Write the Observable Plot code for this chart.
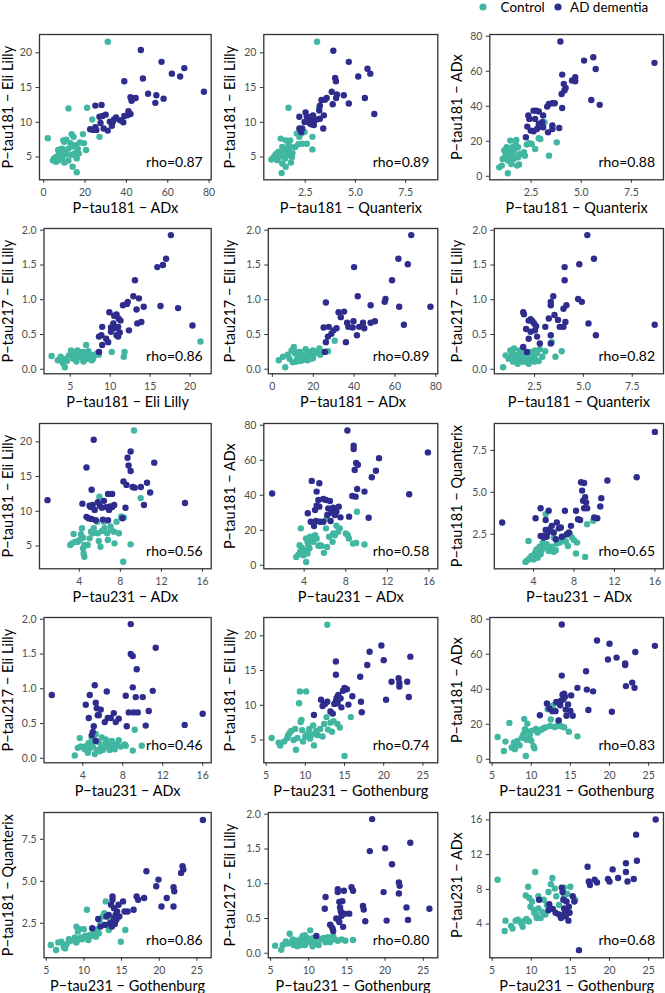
<!DOCTYPE html>
<html><head><meta charset="utf-8">
<script src="https://cdn.jsdelivr.net/npm/d3@7"></script>
<script src="https://cdn.jsdelivr.net/npm/@observablehq/plot@0.6"></script>
<style>
body{margin:0;background:#fff;font-family:Lato,sans-serif;}
#chart{position:relative;width:665px;height:993px;overflow:hidden;background:#fff;}
.panel{position:absolute;}
</style></head><body><div id="chart"></div>
<script>
// ---- variables (axes) ----
const varLabels = {E181:"P\u2212tau181 \u2212 Eli Lilly", A181:"P\u2212tau181 \u2212 ADx", Q181:"P\u2212tau181 \u2212 Quanterix", T217:"P\u2212tau217 \u2212 Eli Lilly", A231:"P\u2212tau231 \u2212 ADx", G231:"P\u2212tau231 \u2212 Gothenburg"};
const varDomains = {E181:[1.72,22.64], A181:[-2.0,81.0], Q181:[0.44,9.1], T217:[-0.065,2.025], A231:[0.12,16.85], G231:[4.7,26.9]};
const ticksE181 = [5,10,15,20];
const ticksA181 = [0,20,40,60,80];
const ticksQ181 = [2.5,5.0,7.5];
const ticksT217 = [0,0.5,1,1.5,2];
const ticksA231 = [4,8,12,16];
const ticksG231 = [5,10,15,20,25];
const varTicks = {E181:ticksE181, A181:ticksA181, Q181:ticksQ181, T217:ticksT217, A231:ticksA231, G231:ticksG231};
const oneDecimal = ["Q181","T217"];

const groups = ["Control","AD dementia"];
const groupColors = ["#41b6a1","#2e2c8c"];

// ---- panel data: [x, y] ----
const p01_control = [[31,21.6],[2,7.7],[12,12],[21,12.1],[23.5,10.4],[27,7.9],[16,2.8],[14,3.6],[4.5,4.5],[5,4.8],[6,4.3],[6,5],[7,4.5],[7.5,5.6],[8,5.3],[8,6.1],[9,4.9],[9,6.2],[10,5.7],[10,4.2],[11,7.5],[11,5.4],[12,4.5],[12,6.2],[13,7],[13.5,8.3],[13.5,5.3],[14.5,7.9],[14.5,6.5],[15,5.5],[15.5,6.7],[16,4.8],[16.5,6.2],[17,5.5],[17.5,7.1],[19,8.3],[19.5,7],[20.5,6],[10,7.2],[7,6],[9.5,7.4]];
const p01_ad = [[47,20.4],[57,18.7],[62,17],[68,17.8],[66,16.6],[77.5,14.4],[48,16.3],[39,15.9],[42,13.6],[43,13.4],[44.5,13.5],[42.5,13.1],[50.5,14.1],[54.5,13.9],[54,12.8],[58,13.4],[25,12.4],[28,12.5],[27,10.8],[28.5,10.9],[30,11.1],[27.5,9.9],[25.5,8.9],[25,9.3],[31,8.8],[33,9.5],[32,10.1],[34,10.4],[35,10.7],[37,10.3],[39,10.9],[41,11.6],[40.5,11],[42,11.2],[38.5,10],[22.5,9],[24,8.9],[29,9.1],[33.5,10.1]];

const p02_control = [[3.09,21.6],[1.67,12.1],[3.2,12.1],[0.82,4.64],[0.94,5.0],[1.03,5.4],[1.11,4.55],[1.2,5.0],[1.28,5.6],[1.28,7.65],[1.36,6.45],[1.36,4.07],[1.33,2.7],[1.45,5.74],[1.5,4.8],[1.53,3.6],[1.53,7.4],[1.62,6.2],[1.62,5.26],[1.67,6.9],[1.7,5.74],[1.75,7.4],[1.79,4.2],[1.84,5.0],[1.75,6.46],[1.87,5.6],[1.16,5.74],[2.08,8.37],[2.16,6.84],[2.3,8.37],[2.21,7.9],[2.35,6.9],[2.47,8.6],[2.58,6.9],[2.86,7.9],[2.86,6.1],[2.0,6.46],[1.45,5.26]];
const p02_ad = [[3.9,20.3],[4.67,18.7],[5.6,17.7],[5.74,17],[5.14,16.6],[3.99,16.4],[4.03,15.9],[3.82,14.4],[4.08,14.0],[4.04,13.5],[4.42,13.9],[3.57,13.5],[3.31,13.2],[3.48,13.25],[3.23,12.4],[3.87,12.6],[4.67,12.7],[5.47,13.5],[5.94,11.2],[3.2,11.7],[2.21,10.8],[2.52,11.4],[2.58,10.8],[2.68,10.5],[2.8,10.8],[2.89,11.0],[2.97,10.3],[3.23,10.5],[3.43,11.0],[3.4,9.1],[2.21,9.1],[2.35,9.1],[2.3,8.6],[2.72,9.9],[2.8,9.7],[2.47,10.05],[2.93,9.6],[3.06,10.4]];

const p03_control = [[0.91,5.1],[1.04,6.1],[1.34,1.7],[1.2,11.2],[1.25,13.1],[1.28,16.6],[1.39,14.7],[1.46,20.4],[1.51,7.0],[1.56,12.8],[1.63,9.9],[1.68,15.6],[1.73,18.5],[1.76,20.8],[1.8,6.1],[1.85,10.9],[1.34,9],[1.42,11.8],[1.56,16.6],[1.16,14.7],[1.9,6.7],[2.14,13.7],[2.19,11.8],[2.28,18.1],[2.41,18.9],[2.53,18.5],[2.7,15.6],[2.88,21.7],[2.96,21.3],[3.17,30.9],[3.39,11.8],[3.78,19.4],[1.85,16.6],[1.08,9.9],[1.94,12.8],[1.63,13.7]];
const p03_ad = [[3.96,77],[5.14,66.1],[5.6,68],[5.72,61.3],[8.65,64.8],[4.05,58.1],[4.13,52.8],[4.22,50.5],[4.16,49],[4.02,47],[4.54,54.7],[4.7,56.6],[4.7,54.3],[5.5,43.6],[5.92,40.8],[4.05,39],[3.3,39.8],[3.39,41.3],[3.56,41.7],[3.68,41.7],[2.62,37.5],[2.76,37.5],[2.88,37],[2.36,34.7],[2.41,32.8],[2.7,32.8],[3.1,34.7],[2.31,28.4],[2.48,26.1],[2.62,25.7],[2.79,27],[2.96,28.4],[3.1,28],[3.56,29],[3.56,27],[3.34,25.1],[3.9,27.6],[2.24,22.3],[2.88,29.9],[3.05,30.9]];

const p04_control = [[2.67,0.19],[3.45,0.13],[4.07,0.09],[4.33,0.03],[4.22,0.15],[4.59,0.12],[4.84,0.2],[5.1,0.27],[5.36,0.15],[5.62,0.21],[5.78,0.11],[6.03,0.18],[6.3,0.21],[6.55,0.15],[6.8,0.2],[7.0,0.35],[7.2,0.15],[7.4,0.18],[7.6,0.21],[7.85,0.15],[8.05,0.2],[8.36,0.23],[8.57,0.21],[10.2,0.25],[11.8,0.25],[11.7,0.18],[21.3,0.4],[6.14,0.25],[6.66,0.25],[7.7,0.13],[5.26,0.23],[3.8,0.18],[5.9,0.27],[7.28,0.26],[6.66,0.11],[7.2,0.23]];
const p04_ad = [[17.6,1.93],[17.0,1.59],[16.6,1.5],[15.9,1.47],[13.1,1.28],[12.9,1.05],[13.6,1.02],[13.3,0.86],[14.2,0.9],[13.4,0.66],[13.9,0.68],[16.3,0.91],[18.5,0.88],[20.3,0.63],[11.6,0.92],[12.1,0.94],[12.2,0.97],[9.9,0.82],[10.5,0.77],[10.8,0.79],[11.05,0.73],[11.3,0.7],[10.4,0.66],[10.1,0.6],[10.6,0.59],[11.2,0.53],[10.8,0.49],[11,0.47],[10.1,0.54],[12.35,0.56],[9.0,0.61],[8.9,0.49],[8.6,0.47],[9.5,0.44],[9.0,0.35],[8.6,0.25],[9.75,0.39],[11,0.61]];

const p05_control = [[5.2,0.18],[8.4,0.15],[6.3,0.03],[9.4,0.27],[10.5,0.32],[10.9,0.23],[12.1,0.15],[13,0.2],[13.6,0.12],[14.2,0.18],[15,0.21],[15.7,0.14],[16.7,0.2],[17.8,0.18],[18.4,0.25],[19.2,0.21],[19.9,0.16],[20.9,0.23],[22,0.25],[23,0.3],[25.1,0.25],[30.5,0.41],[27.2,0.26],[11.5,0.11],[12.6,0.25],[14.6,0.13],[16.3,0.29],[10,0.1],[17.2,0.13],[3.1,0.13],[7.5,0.21],[19.9,0.27],[23.4,0.21],[13.6,0.25],[18.8,0.15]];
const p05_ad = [[68,1.93],[61.7,1.59],[66.3,1.51],[40,1.47],[58.6,1.28],[41.8,1.05],[55.4,1.01],[55,0.97],[64.4,0.64],[77.4,0.9],[62.1,0.9],[48.1,0.92],[35.1,0.83],[32.4,0.82],[33.5,0.75],[36.6,0.67],[39.7,0.69],[44.4,0.67],[48.1,0.67],[50.2,0.69],[37.2,0.61],[39.3,0.6],[41.4,0.49],[42.5,0.61],[26.2,0.96],[25.1,0.6],[27.6,0.61],[28.9,0.51],[29.9,0.56],[31.4,0.59],[26.2,0.39],[25.7,0.25],[27.2,0.47],[36,0.39],[45,0.59]];

const p06_control = [[0.89,0.03],[1.17,0.15],[1.32,0.18],[1.4,0.11],[1.51,0.2],[1.58,0.13],[1.7,0.21],[1.77,0.15],[1.88,0.18],[1.96,0.25],[2.07,0.13],[2.15,0.21],[2.26,0.16],[2.3,0.25],[2.39,0.2],[2.52,0.15],[2.63,0.23],[2.77,0.29],[2.9,0.18],[1.26,0.27],[1.45,0.3],[1.73,0.27],[1.83,0.11],[2.0,0.11],[2.2,0.08],[2.52,0.27],[3.05,0.26],[3.38,0.39],[3.57,0.18],[3.89,0.26],[1.02,0.2],[1.64,0.08],[1.36,0.23],[2.48,0.11],[2.71,0.12]];
const p06_ad = [[5.2,1.93],[4.79,1.51],[5.54,1.59],[4.04,1.47],[4.04,1.28],[3.46,1.05],[3.33,0.97],[3.33,0.92],[3.98,0.87],[4.13,0.92],[4.73,1.01],[4.92,0.97],[3.52,0.78],[4.08,0.68],[3.7,0.71],[3.79,0.61],[3.98,0.61],[5.26,0.66],[5.64,0.49],[8.65,0.64],[1.92,0.82],[1.96,0.79],[2.2,0.7],[2.3,0.72],[2.39,0.69],[2.48,0.66],[2.58,0.62],[2.52,0.56],[2.3,0.54],[2.07,0.58],[1.92,0.32],[2.11,0.25],[2.2,0.44],[2.63,0.47],[3.33,0.49],[3.33,0.37],[2.77,0.37],[3.05,0.61],[3.23,0.73]];

const p07_control = [[9.33,21.64],[9.98,11.9],[5.96,12.1],[4.26,7.55],[3.44,6.73],[3.12,5.14],[3.28,5.38],[3.6,5.62],[3.84,5.62],[4.03,5.87],[4.16,6.7],[4.36,6.2],[4.49,5.14],[4.36,4.66],[4.42,3.93],[4.49,3.45],[4.82,5.14],[5.0,6.1],[5.14,7.07],[5.34,6.83],[5.41,7.55],[5.73,8.5],[5.8,6.83],[5.9,5.72],[6.06,4.9],[6.22,7.17],[6.39,8.5],[6.45,7.55],[6.71,6.83],[6.78,5.87],[7.04,7.8],[7.11,7.3],[7.37,7.07],[7.43,5.38],[7.63,8.5],[7.86,6.83],[8.09,9.24],[8.35,9.1],[8.28,2.73],[9.0,5.24]];
const p07_ad = [[0.9,11.6],[5.4,20.3],[4.7,16.3],[5.2,13.1],[4.3,11.1],[5.0,10.8],[5.1,10.6],[5.3,10.9],[5.5,10.2],[5.8,11.3],[6.0,10.8],[6.2,10.5],[6.4,11.5],[6.6,10.6],[6.9,10.2],[7.0,10.7],[7.2,10.6],[7.4,10.9],[6.8,12.5],[7.2,12.5],[4.7,9.2],[4.9,9.0],[5.2,8.9],[5.6,8.7],[6.3,8.8],[6.8,8.7],[8.2,9.0],[8.5,10.5],[8.3,14.3],[8.6,13.8],[8.8,16.6],[8.7,17.7],[9.0,18.6],[9.0,15.8],[9.2,13.5],[9.4,13.4],[10.0,13.5],[10.6,14.1],[10.9,12.7],[10.3,10.9],[11.3,17.0],[14.3,11.2]];

const p08_control = [[9.08,30.6],[3.68,21.1],[3.24,4.8],[3.46,6.1],[3.62,7.7],[3.56,11.5],[3.78,10],[3.94,5.7],[4.19,1.9],[4.19,15.3],[4.32,13.4],[4.41,11.5],[4.51,9.6],[4.32,6.7],[4.57,16.3],[4.73,15.3],[4.89,13.4],[5.05,17.2],[5.2,15.3],[5.37,11.1],[5.52,11.5],[5.68,11.1],[5.9,7.1],[6.2,10.5],[6.1,21.1],[6.16,26.8],[6.4,16.3],[6.73,13.4],[6.8,18.2],[6.95,17.2],[7.1,22.6],[7.27,19.1],[7.43,21.1],[8.0,18.2],[8.2,17.2],[8.3,15.3],[8.7,12.4],[9.0,12.8],[9.8,11.9],[4.0,8.6]];
const p08_ad = [[8.16,77],[8.76,68.3],[8.76,66.4],[11.2,61.2],[9.0,58.4],[9.17,57.4],[8.86,54.5],[10.9,54],[10.5,50.3],[9.1,43.6],[8.63,39.6],[8.95,39.2],[9.8,42.1],[14.1,40.6],[15.9,64.5],[10.2,27.2],[0.92,41],[4.73,48.2],[5.46,46.9],[5.2,42.1],[5.37,37.3],[5.84,37.9],[6.1,37.3],[6.48,36.7],[6.32,32.5],[6.8,32.9],[7.1,30.6],[7.33,33.5],[5.2,34.1],[5.46,33.5],[5.05,31.6],[4.35,29.7],[4.63,24.9],[5.14,25.3],[5.52,24.9],[5.84,24.9],[4.95,22.4],[6.22,28.7],[6.63,30.2],[6.95,28.7],[7.49,27.4],[8.32,27.8],[6.54,25.3]];

const p09_control = [[3.2,0.85],[3.4,0.95],[3.6,1.05],[3.5,2.1],[3.8,1.2],[4.0,1.0],[4.1,1.3],[4.2,1.45],[4.3,1.6],[4.4,1.1],[4.5,1.4],[4.6,1.75],[4.7,1.3],[4.8,1.55],[5.0,1.7],[5.1,1.85],[5.2,3.7],[5.3,1.9],[5.5,1.5],[5.6,1.6],[5.8,1.75],[6.0,1.45],[6.2,1.55],[6.3,1.95],[6.6,2.0],[6.8,2.2],[7.0,2.35],[7.2,2.05],[7.4,1.8],[7.6,2.5],[7.8,2.3],[8.0,2.15],[8.2,1.35],[8.3,2.0],[9.1,1.15],[9.3,3.1],[9.9,3.3],[5.4,2.6],[6.0,2.3],[4.9,2.0]];
const p09_ad = [[0.9,3.2],[4.2,3.45],[4.7,4.05],[5.2,3.35],[5.5,3.9],[4.9,2.4],[4.7,2.4],[5.0,2.3],[5.3,2.35],[5.4,2.6],[5.6,2.8],[5.8,3.0],[5.2,2.75],[6.0,2.6],[6.3,3.2],[6.5,2.85],[6.7,2.9],[6.8,2.35],[7.1,3.9],[7.3,2.5],[7.5,2.6],[7.7,3.0],[8.2,3.9],[8.4,3.4],[8.6,3.35],[8.7,5.6],[8.8,5.1],[9.0,5.55],[8.9,4.5],[9.0,4.05],[9.1,4.7],[9.3,4.05],[9.2,4.4],[10.0,3.5],[10.3,3.45],[10.7,4.65],[10.6,4.15],[11.3,5.7],[14.2,5.9],[16.0,8.6],[6.2,2.2]];

const p10_control = [[3.2,0.04],[3.5,0.15],[3.7,0.29],[3.8,0.17],[4.0,0.16],[4.2,0.13],[4.4,0.18],[4.5,0.08],[4.6,0.22],[4.7,0.14],[4.8,0.2],[5.0,0.17],[5.1,0.27],[5.3,0.35],[5.4,0.12],[5.6,0.23],[5.8,0.15],[5.9,0.3],[6.0,0.12],[6.2,0.2],[6.4,0.16],[6.6,0.22],[6.7,0.12],[6.9,0.25],[7.0,0.18],[7.2,0.13],[7.4,0.2],[7.6,0.26],[7.8,0.17],[8.2,0.2],[8.3,0.18],[9.0,0.11],[9.2,0.41],[9.9,0.18],[4.9,0.3],[5.7,0.1],[6.3,0.27],[5.2,0.06]];
const p10_ad = [[0.9,0.91],[4.3,0.77],[4.7,0.91],[5.2,1.05],[4.6,0.58],[4.9,0.33],[5.0,0.38],[5.1,0.46],[5.3,0.8],[5.4,0.72],[5.6,0.62],[5.3,0.25],[5.8,0.7],[6.2,0.52],[6.4,0.96],[6.5,0.58],[6.8,0.58],[7.1,0.65],[7.3,0.52],[7.6,0.57],[8.3,0.9],[8.4,0.46],[8.6,0.66],[8.8,1.93],[8.8,1.5],[9.0,1.47],[9.0,1.02],[9.1,0.66],[9.3,0.88],[9.4,1.28],[9.5,0.66],[10.0,0.88],[10.3,0.47],[10.6,0.68],[11.0,0.97],[11.3,1.59],[14.2,0.48],[16.0,0.64],[5.5,0.62]];

const p11_control = [[5.7,5.3],[6.6,4.6],[6.8,4.2],[7.3,4.8],[7.7,5.3],[7.8,5.7],[8.0,6.0],[8.2,6.3],[8.5,5.0],[8.7,6.6],[8.8,3.6],[9.0,5.3],[9.2,10.3],[9.3,12.0],[9.4,7.6],[9.5,7.9],[9.6,6.4],[9.7,4.8],[10.1,12.0],[10.3,5.9],[10.5,6.6],[10.6,5.2],[10.9,5.8],[11.0,7.1],[11.1,4.2],[11.4,6.3],[11.6,5.7],[11.9,6.6],[12.2,5.5],[12.4,7.3],[12.7,8.3],[12.8,21.6],[12.9,6.5],[13.2,7.5],[13.4,6.2],[13.6,7.7],[14.1,7.3],[14.4,6.8],[15.0,2.7],[15.8,8.3],[10.0,5.5]];
const p11_ad = [[11.1,8.6],[12.0,10.8],[12.2,9.9],[12.8,10.5],[13.2,9.1],[13.5,8.8],[13.7,10.2],[13.9,10.6],[14.0,11.1],[14.1,10.3],[14.2,11.5],[14.3,10.9],[14.5,11.0],[13.9,16.3],[13.9,14.4],[14.6,9.7],[15.0,12.5],[15.3,12.3],[15.5,10.1],[16.0,11.3],[17.0,14.1],[17.1,10.5],[17.2,9.0],[17.9,15.8],[18.2,17.7],[19.7,18.6],[20.0,16.5],[20.3,10.8],[21.0,13.4],[21.9,13.9],[22.0,13.2],[22.0,12.7],[23.0,13.4],[23.2,11.2],[23.4,17.0],[14.8,12.1],[12.5,10.2]];

const p12_control = [[5.7,12.7],[6.5,4.7],[6.7,10.1],[7.2,20.8],[7.5,6.7],[7.8,9.6],[7.9,5.8],[8.2,10.5],[8.5,8.0],[8.8,12.4],[9.0,14.3],[9.1,23.1],[9.2,17.2],[9.3,1.9],[9.4,11.2],[9.5,20.4],[9.6,15.7],[9.8,13.8],[10.1,16.4],[10.3,7.5],[10.4,6.3],[10.6,17.3],[10.8,15.3],[11.2,16.7],[11.5,17.6],[11.8,18.2],[12.1,28.6],[12.5,22.8],[12.8,30.9],[13.0,18.4],[13.2,18.9],[13.5,22.0],[13.8,18.9],[14.2,18.3],[14.8,15.8],[15.9,13.1],[9.0,12.3],[10.0,10.6],[8.0,7.5],[12.4,19.0]];
const p12_ad = [[11.1,25.2],[12.0,31.9],[12.3,29.0],[12.7,27.5],[13.1,27.5],[13.5,22.2],[13.7,30.9],[13.8,33.5],[13.9,77],[13.9,47.8],[14.0,36.9],[14.1,34.3],[14.2,37.4],[14.4,28.4],[14.5,24.9],[14.7,31.3],[15.0,27.6],[15.1,36.5],[15.3,24.9],[15.9,40.8],[17.0,50.3],[17.3,28.2],[17.1,39.8],[17.9,38.8],[18.4,67.9],[19.8,57],[20.0,66],[20.3,27.2],[20.9,58.1],[22.0,54.7],[22.0,53.9],[22.1,41.8],[22.9,43.8],[23.2,40.8],[23.3,61.3],[25.8,64.8],[14.3,35.7],[13.2,32.7]];

const p13_control = [[5.6,1.2],[6.3,0.9],[6.6,1.35],[7.0,1.4],[7.3,1.1],[7.5,1.0],[7.7,1.25],[8.0,1.55],[8.2,1.45],[8.5,1.5],[8.8,1.65],[9.0,2.3],[9.0,1.35],[9.2,2.0],[9.4,2.15],[9.6,1.65],[9.8,1.55],[10.0,2.15],[10.2,1.75],[10.4,3.3],[10.6,1.5],[10.8,1.8],[11.1,1.75],[11.3,1.95],[11.6,1.7],[11.8,2.15],[12.0,1.9],[12.5,2.9],[12.7,3.1],[12.9,3.8],[13.0,2.4],[13.3,2.1],[13.5,2.6],[13.7,2.3],[14.3,2.7],[14.9,1.4],[15.5,2.1],[12.2,2.5],[9.2,1.5]];
const p13_ad = [[11.1,2.2],[11.9,2.75],[12.2,2.3],[12.8,2.4],[13.0,2.9],[13.5,2.5],[13.6,3.6],[13.7,2.3],[13.8,3.9],[13.8,4.1],[13.9,2.6],[14.0,2.8],[14.1,2.45],[14.2,3.0],[14.3,2.7],[14.4,3.2],[14.6,3.6],[14.7,2.9],[15.2,3.8],[15.4,3.2],[15.8,3.2],[16.6,3.3],[17.0,4.1],[17.2,3.9],[18.0,4.0],[18.3,5.6],[19.6,4.7],[19.9,5.1],[20.3,3.5],[21.0,4.0],[21.9,4.65],[22.0,4.4],[21.9,3.5],[22.9,5.5],[23.1,5.9],[23.2,5.7],[25.8,8.65],[14.0,3.4],[13.3,3.0]];

const p14_control = [[5.6,0.11],[6.4,0.05],[6.6,0.12],[7.0,0.17],[7.2,0.14],[7.5,0.28],[7.6,0.15],[7.9,0.2],[8.0,0.12],[8.3,0.18],[8.6,0.15],[8.9,0.2],[9.0,0.12],[9.2,0.25],[9.4,0.17],[9.5,0.12],[9.8,0.22],[10.0,0.18],[10.2,0.33],[10.3,0.15],[10.6,0.22],[10.8,0.14],[11.0,0.21],[11.3,0.12],[11.6,0.2],[11.9,0.22],[12.2,0.16],[12.5,0.23],[12.8,0.16],[12.9,0.4],[13.2,0.25],[13.4,0.2],[13.8,0.18],[14.3,0.2],[14.8,0.18],[15.8,0.19],[10.5,0.1],[9.5,0.26],[8.5,0.1]];
const p14_ad = [[11.0,0.25],[12.1,0.64],[12.2,0.81],[12.8,0.41],[13.1,0.36],[13.2,0.32],[13.6,0.5],[13.8,0.88],[13.8,0.92],[13.9,0.49],[14.0,0.74],[14.1,0.66],[14.2,0.6],[14.3,0.54],[14.4,0.75],[14.5,0.38],[14.6,0.9],[14.7,0.57],[15.3,0.57],[15.6,0.95],[15.8,0.9],[17.1,0.68],[17.2,0.63],[17.4,0.46],[18.0,1.47],[18.3,1.93],[19.8,0.88],[20.0,1.51],[20.2,0.47],[20.9,1.28],[21.8,1.02],[21.9,0.97],[21.8,0.86],[22.8,0.66],[23.0,0.48],[23.3,1.59],[25.8,0.64],[14.0,0.45]];

const p15_control = [[5.7,9.1],[6.6,3.2],[6.7,4.4],[7.4,3.8],[7.6,3.5],[8.0,4.4],[8.3,4.5],[8.7,4.1],[8.9,3.7],[9.1,4.4],[9.3,7.3],[9.6,8.3],[9.4,4.6],[9.7,4.3],[9.75,7.0],[9.9,6.0],[10.1,6.6],[10.5,10.0],[10.35,5.6],[10.4,5.3],[10.6,5.1],[10.7,4.7],[10.9,5.8],[10.9,7.2],[11.2,4.7],[11.4,5.4],[11.6,6.8],[11.8,5.1],[12.0,6.2],[12.2,7.7],[12.5,8.6],[12.7,9.3],[13.0,8.1],[13.2,7.2],[13.55,6.2],[14.2,7.2],[14.2,8.2],[15.0,8.3],[15.6,6.8],[14.6,7.5]];
const p15_ad = [[11.0,6.8],[12.2,5.6],[12.3,6.3],[12.75,5.75],[13.1,5.3],[13.55,5.1],[13.8,4.7],[13.9,8.2],[14.0,7.7],[14.1,6.8],[14.2,5.8],[14.3,5.3],[14.4,4.9],[14.5,6.6],[14.6,5.6],[14.75,4.4],[14.8,6.0],[14.9,5.3],[15.3,7.2],[15.5,6.6],[16.1,1.0],[17.2,10.6],[17.35,8.9],[17.5,8.5],[18.1,9.1],[18.4,8.8],[19.8,9.2],[20.0,8.9],[20.4,10.3],[21.1,9.3],[22.1,10.0],[22.1,11.0],[22.3,8.9],[23.1,9.2],[23.4,14.3],[23.5,11.3],[25.9,16.05]];

const panels = [
  {x:"A181", y:"E181", rho:"0.87", control:p01_control, ad:p01_ad},
  {x:"Q181", y:"E181", rho:"0.89", control:p02_control, ad:p02_ad},
  {x:"Q181", y:"A181", rho:"0.88", control:p03_control, ad:p03_ad},
  {x:"E181", y:"T217", rho:"0.86", control:p04_control, ad:p04_ad},
  {x:"A181", y:"T217", rho:"0.89", control:p05_control, ad:p05_ad},
  {x:"Q181", y:"T217", rho:"0.82", control:p06_control, ad:p06_ad},
  {x:"A231", y:"E181", rho:"0.56", control:p07_control, ad:p07_ad},
  {x:"A231", y:"A181", rho:"0.58", control:p08_control, ad:p08_ad},
  {x:"A231", y:"Q181", rho:"0.65", control:p09_control, ad:p09_ad},
  {x:"A231", y:"T217", rho:"0.46", control:p10_control, ad:p10_ad},
  {x:"G231", y:"E181", rho:"0.74", control:p11_control, ad:p11_ad},
  {x:"G231", y:"A181", rho:"0.83", control:p12_control, ad:p12_ad},
  {x:"G231", y:"Q181", rho:"0.86", control:p13_control, ad:p13_ad},
  {x:"G231", y:"T217", rho:"0.80", control:p14_control, ad:p14_ad},
  {x:"G231", y:"A231", rho:"0.68", control:p15_control, ad:p15_ad}
];

// ---- layout ----
const colLeft = [0, 222, 449];
const boxLeftNarrow = [39, 263.3, 489.3];
const boxRight = [210.7, 437.3, 663];
const titleCenter = [7.5, 8, 8];
const rowTop0 = 34, rowPitch = 194.4, boxH = 145.3;
const FONT = "Lato, 'Open Sans', sans-serif";

const chart = document.getElementById("chart");

// legend
const ns = "http://www.w3.org/2000/svg";
const leg = document.createElementNS(ns, "svg");
leg.setAttribute("width", 665); leg.setAttribute("height", 18);
leg.style.position = "absolute"; leg.style.left = "0px"; leg.style.top = "0px";
const legX = [[483, 500.5], [558, 570]];
groups.forEach((g, k) => {
  const c = document.createElementNS(ns, "circle");
  c.setAttribute("cx", legX[k][0]); c.setAttribute("cy", 7); c.setAttribute("r", 3.6);
  c.setAttribute("fill", groupColors[k]); leg.appendChild(c);
  const t = document.createElementNS(ns, "text");
  t.setAttribute("x", legX[k][1]); t.setAttribute("y", 11.6);
  t.setAttribute("font-size", 13.5); t.setAttribute("font-family", FONT);
  t.textContent = g; leg.appendChild(t);
});
chart.appendChild(leg);

panels.forEach((p, i) => {
  const r = Math.floor(i / 3), c = i % 3;
  const wide = oneDecimal.includes(p.y);
  const left = colLeft[c];
  const boxL = boxLeftNarrow[c] + (wide ? 4.5 : 0);
  const boxTop = rowTop0 + rowPitch * r;
  const mT = 10, mB = 40;
  const W = (c === 2 ? 665 : boxRight[c] + 5) - left;
  const mL = boxL - left;
  const mR = W - (boxRight[c] - left);
  const H = mT + boxH + mB;
  const fmtX = oneDecimal.includes(p.x) ? ".1f" : (d => String(d));
  const fmtY = oneDecimal.includes(p.y) ? ".1f" : (d => String(d));
  const plot = Plot.plot({
    width: W, height: H,
    marginLeft: mL, marginRight: mR, marginTop: mT, marginBottom: mB,
    style: {fontFamily: FONT, background: "transparent", overflow: "visible"},
    x: {domain: varDomains[p.x]},
    y: {domain: varDomains[p.y]},
    marks: [
      Plot.dot(p.control, {x: d => d[0], y: d => d[1], r: 3.2, fill: groupColors[0]}),
      Plot.dot(p.ad, {x: d => d[0], y: d => d[1], r: 3.2, fill: groupColors[1]}),
      Plot.frame({stroke: "#333333", strokeWidth: 1.3}),
      Plot.axisX({ticks: varTicks[p.x], tickFormat: fmtX, tickSize: 3.5, tickPadding: 5.2, stroke: "#333333", fill: "#4d4d4d", fontSize: 10.5, label: null}),
      Plot.axisY({ticks: varTicks[p.y], tickFormat: fmtY, tickSize: 3.5, tickPadding: 4, stroke: "#333333", fill: "#4d4d4d", fontSize: 10.5, label: null}),
      Plot.text([p.rho], {text: d => "rho=" + d, frameAnchor: "bottom-right", textAnchor: "end", lineAnchor: "middle", dx: -8.5, dy: -17, fontSize: 14, fill: "black"}),
      Plot.text([varLabels[p.x]], {text: d => d, frameAnchor: "bottom", textAnchor: "middle", lineAnchor: "middle", dy: 28.5, fontSize: 14.5, fill: "black"}),
      Plot.text([varLabels[p.y]], {text: d => d, frameAnchor: "left", textAnchor: "middle", lineAnchor: "middle", rotate: -90, dx: titleCenter[c] - mL, fontSize: 14.5, fill: "black"})
    ]
  });
  const div = document.createElement("div");
  div.className = "panel";
  div.style.left = left + "px";
  div.style.top = (boxTop - mT) + "px";
  div.style.width = W + "px";
  div.appendChild(plot);
  chart.appendChild(div);
});
</script></body></html>
